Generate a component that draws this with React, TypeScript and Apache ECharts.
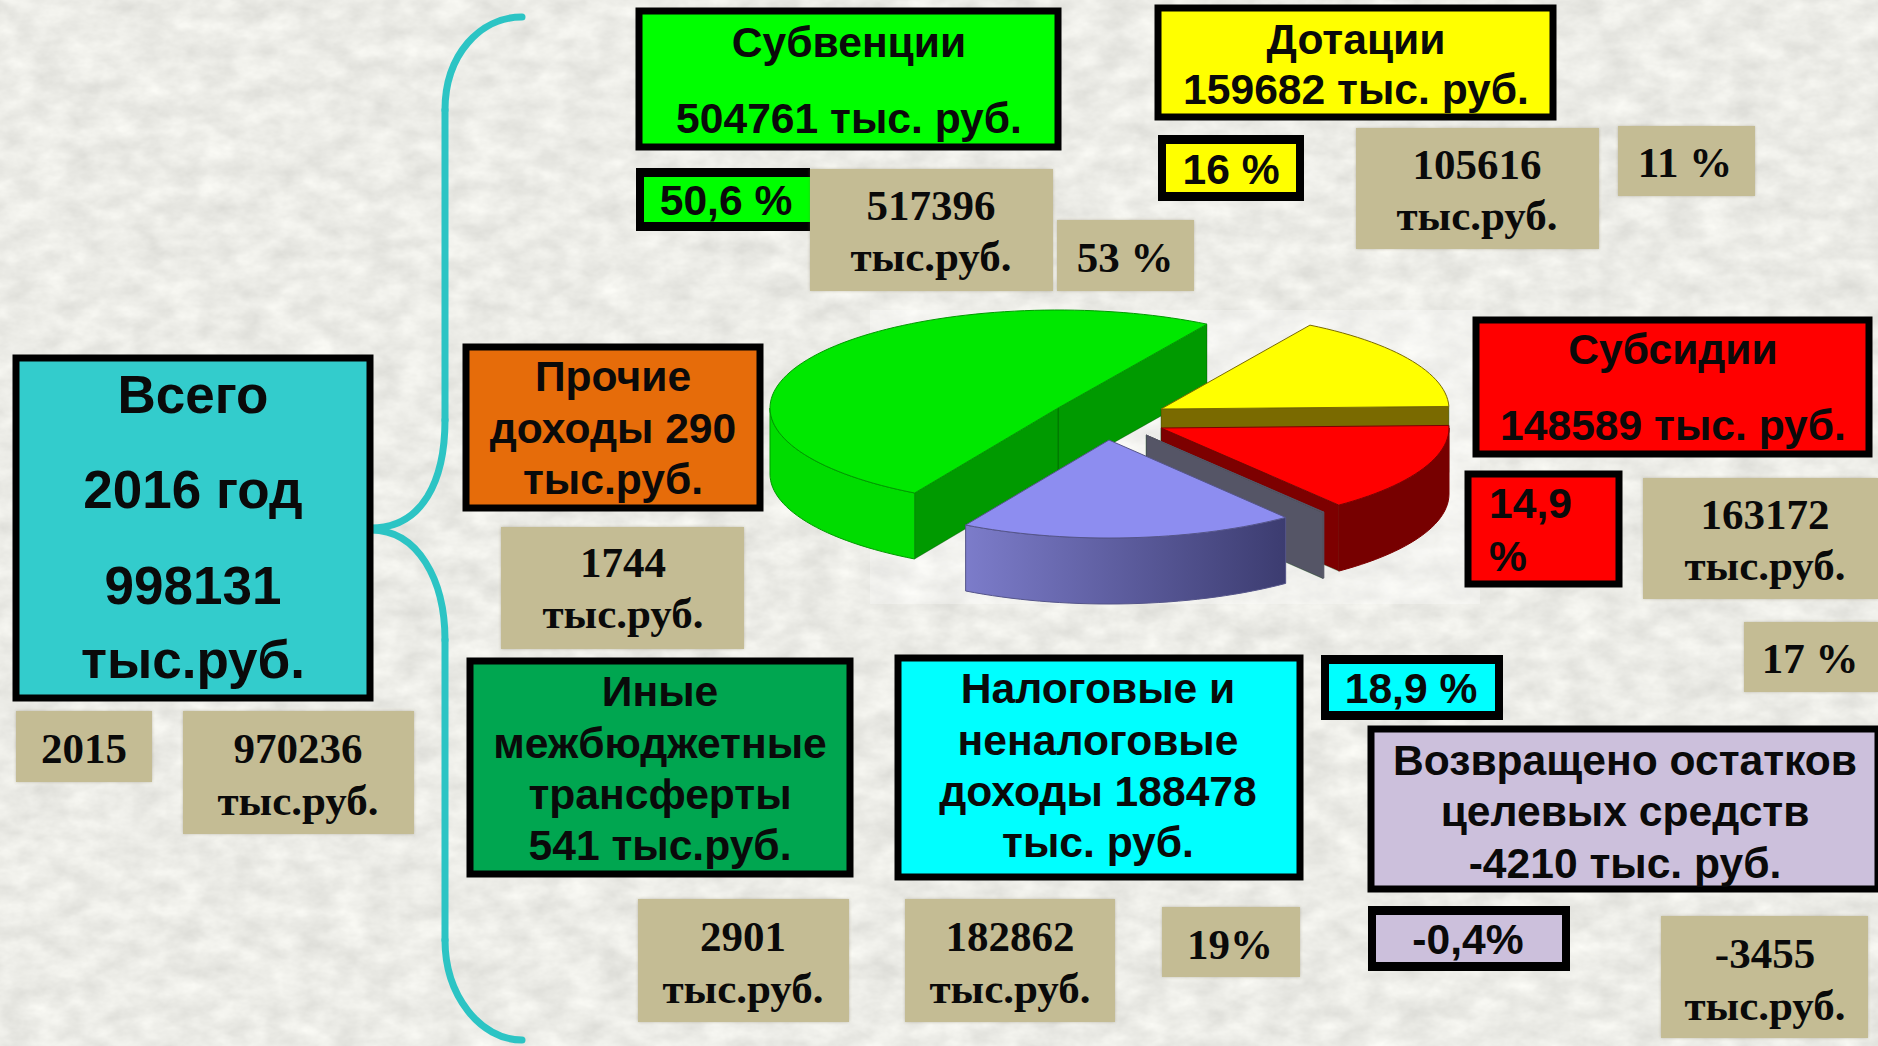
import React, { useEffect, useRef } from "react";
import * as echarts from "echarts";

const sliceNames = ["Дотации", "Субвенции", "Налоговые и неналоговые доходы", "Прочие", "Субсидии"];
const sliceValues = [159682, 504761, 188478, 831, 148589];
const sliceTop = ["#ffff00", "#00e800", "#8d8df0", "#666677", "#ff0000"];
const sliceOuter = ["#7a6a00", "#00dc00", "blue", "#555566", "#770000"];
const sliceEdge = ["#7a6a00", "#009a00", "#55558a", "#555566", "#7d0000"];
const sliceCx = [1161, 1058, 1109, 1146, 1161];
const sliceCy = [409, 408, 440, 435, 428];
const drawOrder = [1, 0, 4, 3, 2];
const SERIF = '"Liberation Serif", serif';
const SANS = '"Liberation Sans", sans-serif';

type Box = { r: number[]; fill: string; border: string; lines: string[]; ys: number[]; cx: number; size: number; font: string; left?: boolean; noRight?: boolean };
const solid = "solid";
const bars = "bars";
const none = "none";
const boxes: Box[] = [
  { r: [16, 358, 354, 340], fill: "#33cccc", border: solid, lines: ["Всего", "2016 год", "998131", "тыс.руб."], ys: [394, 489, 585, 659], cx: 193, size: 53, font: SANS },
  { r: [639, 11, 419, 136], fill: "#00ff00", border: solid, lines: ["Субвенции", "504761 тыс. руб."], ys: [42, 118], cx: 849, size: 42.6, font: SANS },
  { r: [1158, 8, 395, 109], fill: "#ffff00", border: solid, lines: ["Дотации", "159682 тыс. руб."], ys: [39, 89], cx: 1356, size: 42.6, font: SANS },
  { r: [1158, 135, 146, 66], fill: "#ffff00", border: bars, lines: ["16 %"], ys: [169], cx: 1231, size: 42.6, font: SANS },
  { r: [636, 168, 174, 63], fill: "#00ff00", border: bars, lines: ["50,6 %"], ys: [200], cx: 726, size: 42.6, font: SANS, noRight: true },
  { r: [466, 347, 294, 161], fill: "#e66c0a", border: solid, lines: ["Прочие", "доходы 290", "тыс.руб."], ys: [376, 428, 479], cx: 613, size: 42.6, font: SANS },
  { r: [1476, 320, 393, 134], fill: "#ff0000", border: solid, lines: ["Субсидии", "148589 тыс. руб."], ys: [349, 425], cx: 1673, size: 42.6, font: SANS },
  { r: [1468, 474, 151, 110], fill: "#ff0000", border: solid, lines: ["14,9", "%"], ys: [503, 556], cx: 1489, size: 42.6, font: SANS, left: true },
  { r: [470, 661, 380, 213], fill: "#00a650", border: solid, lines: ["Иные", "межбюджетные", "трансферты", "541 тыс.руб."], ys: [691, 743, 794, 845], cx: 660, size: 42.6, font: SANS },
  { r: [898, 658, 402, 219], fill: "#00ffff", border: solid, lines: ["Налоговые и", "неналоговые", "доходы 188478", "тыс. руб."], ys: [688, 740, 791, 842], cx: 1098, size: 42.6, font: SANS },
  { r: [1321, 655, 182, 65], fill: "#00ffff", border: bars, lines: ["18,9 %"], ys: [688], cx: 1411, size: 42.6, font: SANS },
  { r: [1371, 729, 507, 160], fill: "#ccc0dc", border: solid, lines: ["Возвращено остатков", "целевых средств", "-4210 тыс. руб."], ys: [760, 811, 863], cx: 1625, size: 42.6, font: SANS },
  { r: [1368, 906, 202, 65], fill: "#ccc0dc", border: bars, lines: ["-0,4%"], ys: [939], cx: 1468, size: 42.6, font: SANS },
  { r: [810, 169, 243, 122], fill: "#c4bc94", border: none, lines: ["517396", "тыс.руб."], ys: [205, 256], cx: 931, size: 43, font: SERIF },
  { r: [1057, 220, 137, 71], fill: "#c4bc94", border: none, lines: ["53 %"], ys: [257], cx: 1125, size: 43, font: SERIF },
  { r: [1356, 128, 243, 121], fill: "#c4bc94", border: none, lines: ["105616", "тыс.руб."], ys: [164, 215], cx: 1477, size: 43, font: SERIF },
  { r: [1618, 126, 137, 70], fill: "#c4bc94", border: none, lines: ["11 %"], ys: [162], cx: 1685, size: 43, font: SERIF },
  { r: [501, 527, 243, 122], fill: "#c4bc94", border: none, lines: ["1744", "тыс.руб."], ys: [562, 613], cx: 623, size: 43, font: SERIF },
  { r: [1643, 478, 235, 121], fill: "#c4bc94", border: none, lines: ["163172", "тыс.руб."], ys: [514, 565], cx: 1765, size: 43, font: SERIF },
  { r: [1744, 622, 134, 70], fill: "#c4bc94", border: none, lines: ["17 %"], ys: [658], cx: 1810, size: 43, font: SERIF },
  { r: [16, 711, 136, 71], fill: "#c4bc94", border: none, lines: ["2015"], ys: [748], cx: 84, size: 43, font: SERIF },
  { r: [183, 711, 231, 123], fill: "#c4bc94", border: none, lines: ["970236", "тыс.руб."], ys: [748, 800], cx: 298, size: 43, font: SERIF },
  { r: [638, 899, 211, 123], fill: "#c4bc94", border: none, lines: ["2901", "тыс.руб."], ys: [936, 988], cx: 743, size: 43, font: SERIF },
  { r: [905, 899, 210, 123], fill: "#c4bc94", border: none, lines: ["182862", "тыс.руб."], ys: [936, 988], cx: 1010, size: 43, font: SERIF },
  { r: [1162, 907, 138, 70], fill: "#c4bc94", border: none, lines: ["19%"], ys: [944], cx: 1230, size: 43, font: SERIF },
  { r: [1661, 916, 207, 122], fill: "#c4bc94", border: none, lines: ["-3455", "тыс.руб."], ys: [953, 1005], cx: 1765, size: 43, font: SERIF },
];

const RX = 288;
const RY = 98;
const DEPTH = 66;
const START = 1.5;
const SUM = sliceValues.reduce((a, b) => a + b, 0);

function arc(cx: number, cy: number, a0: number, a1: number, dy = 0) {
  const pts: number[][] = [];
  const n = Math.max(2, Math.ceil(Math.abs(a1 - a0) / 2));
  for (let i = 0; i <= n; i++) {
    const t = ((a0 + ((a1 - a0) * i) / n) * Math.PI) / 180;
    pts.push([cx + RX * Math.cos(t), cy - RY * Math.sin(t) + dy]);
  }
  return pts;
}

function renderSlice(_params: any, api: any) {
  const idx = api.value(0);
  let a0 = START;
  for (let i = 0; i < idx; i++) a0 += (sliceValues[i] / SUM) * 360;
  const a1 = a0 + (api.value(1) / SUM) * 360;
  const cx = sliceCx[idx];
  const cy = sliceCy[idx];
  const children: any[] = [];
  const wall = (a: number) => {
    const p = arc(cx, cy, a, a)[0];
    return {
      type: "polygon",
      shape: { points: [[cx, cy], p, [p[0], p[1] + DEPTH], [cx, cy + DEPTH]] },
      style: { fill: sliceEdge[idx], stroke: "rgba(0,60,0,0.35)", lineWidth: 1 },
    };
  };
  const norm = (a: number) => ((a % 360) + 360) % 360;
  if (norm(a0) >= 270 || norm(a0) < 90) children.push(wall(a0));
  if (norm(a1) > 90 && norm(a1) < 270) children.push(wall(a1));
  const f0 = Math.max(a0, 180);
  const f1 = Math.min(a1, 360);
  if (f1 > f0) {
    const top = arc(cx, cy, f0, f1);
    const bottom = arc(cx, cy, f1, f0, DEPTH);
    const fill =
      sliceOuter[idx] === "blue"
        ? {
            type: "linear", x: 0, y: 0, x2: 1, y2: 0,
            colorStops: [
              { offset: 0, color: "#7c7cca" },
              { offset: 1, color: "#3c3c70" },
            ],
          }
        : sliceOuter[idx];
    children.push({
      type: "polygon",
      shape: { points: top.concat(bottom) },
      style: { fill, stroke: sliceEdge[idx], lineWidth: 1 },
    });
  }
  const face = [[cx, cy]].concat(arc(cx, cy, a0, a1));
  children.push({
    type: "polygon",
    shape: { points: face },
    style: { fill: sliceTop[idx], stroke: sliceEdge[idx], lineWidth: 1 },
  });
  return { type: "group", children };
}

function buildGraphics() {
  const g: any[] = [
    { type: "rect", z: -2, shape: { x: 870, y: 310, width: 610, height: 294 }, style: { fill: "rgba(255,255,255,0.3)" } },
  ];
  const brace = { stroke: "#2cc4c4", lineWidth: 7, fill: "none", lineCap: "round" };
  g.push({ type: "bezierCurve", shape: { x1: 371, y1: 528, cpx1: 423, cpy1: 528, cpx2: 445, cpy2: 480, x2: 445, y2: 420 }, style: brace });
  g.push({ type: "line", shape: { x1: 445, y1: 420, x2: 445, y2: 110 }, style: brace });
  g.push({ type: "bezierCurve", shape: { x1: 445, y1: 110, cpx1: 445, cpy1: 55, cpx2: 480, cpy2: 17, x2: 522, y2: 17 }, style: brace });
  g.push({ type: "bezierCurve", shape: { x1: 371, y1: 530, cpx1: 418, cpy1: 530, cpx2: 445, cpy2: 580, x2: 445, y2: 640 }, style: brace });
  g.push({ type: "line", shape: { x1: 445, y1: 640, x2: 445, y2: 940 }, style: brace });
  g.push({ type: "bezierCurve", shape: { x1: 445, y1: 940, cpx1: 445, cpy1: 995, cpx2: 480, cpy2: 1040, x2: 522, y2: 1040 }, style: brace });

  for (const b of boxes) {
    const [x, y, w, h] = b.r;
    if (b.border === solid) {
      g.push({ type: "rect", shape: { x, y, width: w, height: h }, style: { fill: b.fill, stroke: "#000", lineWidth: 7 } });
    } else if (b.border === bars) {
      g.push({ type: "rect", shape: { x, y, width: w, height: h }, style: { fill: b.fill } });
      g.push({ type: "rect", shape: { x, y, width: w, height: 9 }, style: { fill: "#000" } });
      g.push({ type: "rect", shape: { x, y: y + h - 9, width: w, height: 9 }, style: { fill: "#000" } });
      g.push({ type: "rect", shape: { x, y, width: 8, height: h }, style: { fill: "#000" } });
      if (!b.noRight) g.push({ type: "rect", shape: { x: x + w - 8, y, width: 8, height: h }, style: { fill: "#000" } });
    } else {
      g.push({ type: "rect", shape: { x, y, width: w, height: h }, style: { fill: b.fill, shadowBlur: 3, shadowColor: "rgba(120,110,80,0.4)" } });
    }
    b.lines.forEach((t, i) => {
      g.push({
        type: "text",
        x: b.cx,
        y: b.ys[i],
        style: {
          text: t,
          fill: "#0a0a0a",
          font: `bold ${b.size}px ${b.font}`,
          textAlign: b.left ? "left" : "center",
          textVerticalAlign: "middle",
        },
      });
    });
  }
  return g;
}

const noise =
  "data:image/svg+xml;utf8," +
  encodeURIComponent(
    `<svg xmlns="http://www.w3.org/2000/svg" width="1878" height="1046"><filter id="n" x="0" y="0" width="100%" height="100%" color-interpolation-filters="sRGB"><feTurbulence type="fractalNoise" baseFrequency="0.03 0.05" numOctaves="4" seed="7"/><feColorMatrix type="matrix" values="0 0 0 0.14 0.855  0 0 0 0.14 0.855  0 0 0 0.14 0.835  0 0 0 0 1"/></filter><rect width="1878" height="1046" filter="url(#n)"/></svg>`
  );

export default function App() {
  const ref = useRef<HTMLDivElement>(null);
  useEffect(() => {
    document.body.style.margin = "0";
    const chart = echarts.init(ref.current!, undefined, { renderer: "svg" });
    chart.setOption({
      animation: false,
      backgroundColor: "transparent",
      series: [
        {
          type: "custom",
          coordinateSystem: "none",
          renderItem: renderSlice,
          silent: true,
          z: 3,
          data: drawOrder.map((i) => ({ name: sliceNames[i], value: [i, sliceValues[i]] })),
        },
      ],
      graphic: { elements: buildGraphics() },
    });
    return () => chart.dispose();
  }, []);
  return (
    <div
      ref={ref}
      style={{
        position: "absolute",
        left: 0,
        top: 0,
        width: 1878,
        height: 1046,
        background: `#ecece6 url("${noise}")`,
      }}
    />
  );
}
